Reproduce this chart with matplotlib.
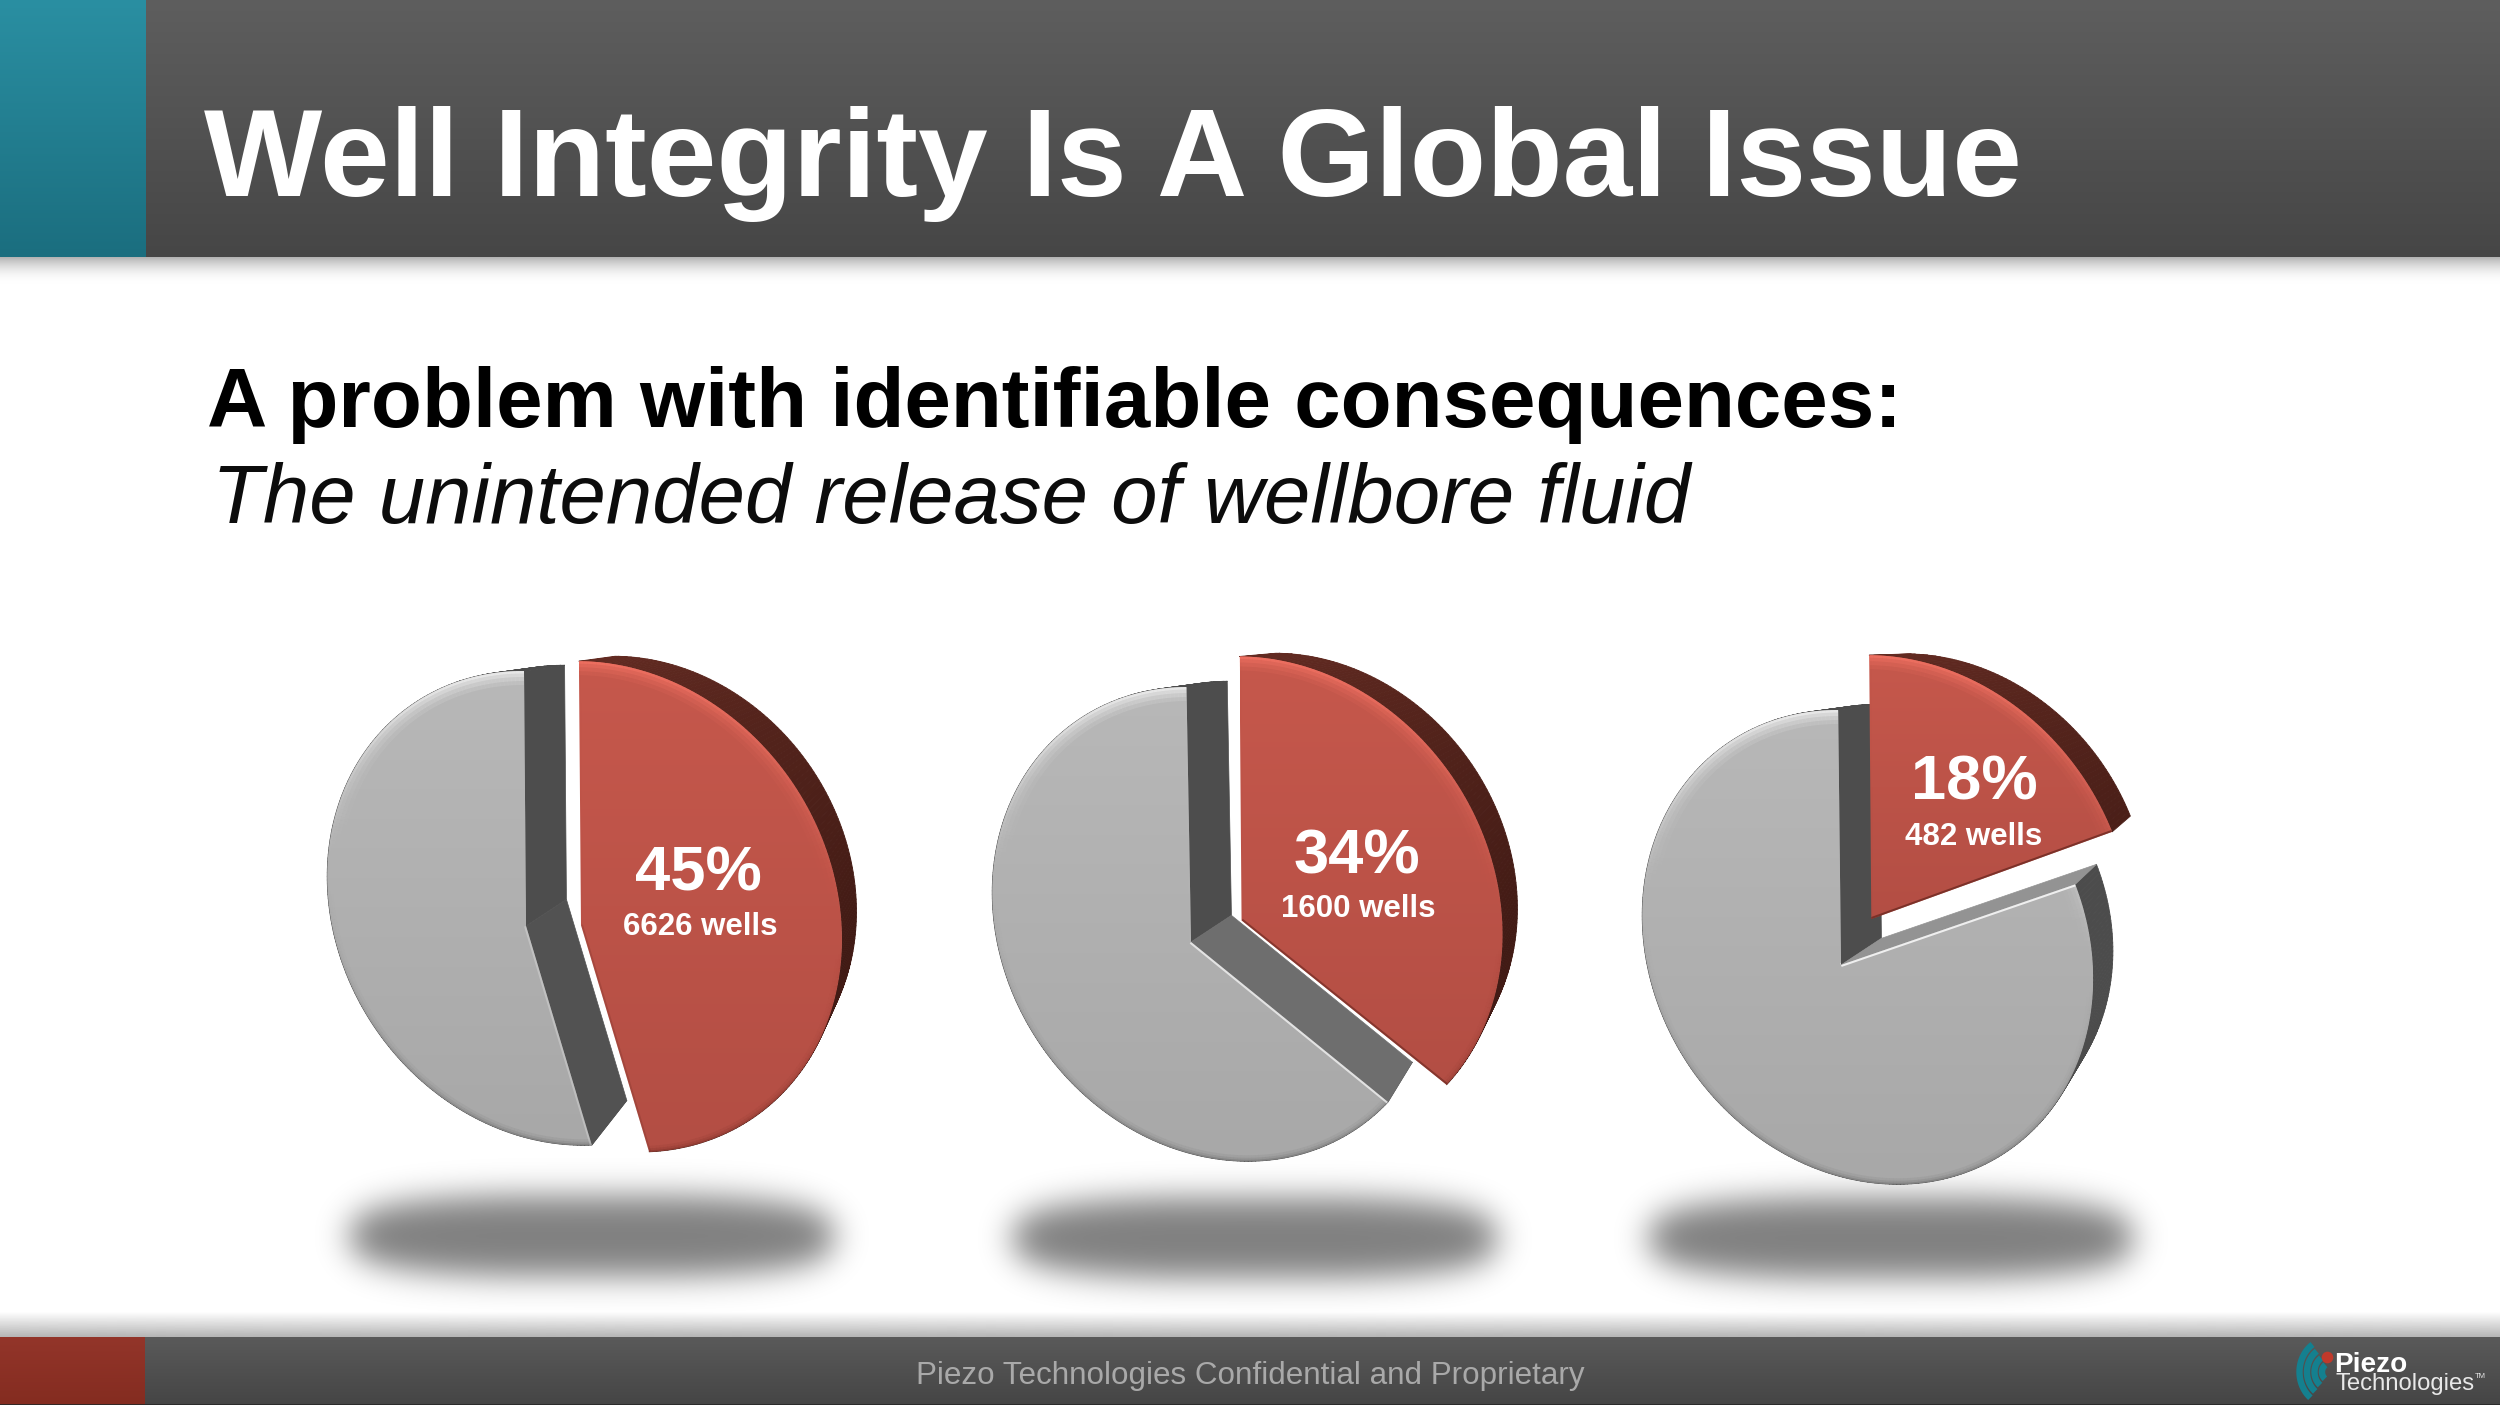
import numpy as np
import matplotlib
matplotlib.use("Agg")
import matplotlib.pyplot as plt
from matplotlib.collections import LineCollection, PolyCollection
from matplotlib.colors import to_rgb
from matplotlib.patches import Polygon

# chart values
percents = [45, 34, 18]
well_counts = [6626, 1600, 482]
title = "Well Integrity Is A Global Issue"
subtitle = "A problem with identifiable consequences:"
subtitle2 = "The unintended release of wellbore fluid"
footer = "Piezo Technologies Confidential and Proprietary"

# layout, in pixels of the 2500x1405 slide
pie_centers = [(526, 926), (1191, 942), (1841, 965)]
shadow_centers = [(592, 1236), (1255, 1238), (1891, 1238)]
pct_pos = [(698, 874), (1357, 857), (1974, 783)]
wells_pos = [(700, 927), (1358, 909), (1974, 837)]
wall_grays = ["#525252", "#6e6e6e", "#939393"]
EXPLODE = 55
RED_SCALE = 1.035
DEPTH = 0.082
VANISH = np.array([493.0, -325.0])

plt.rcParams["font.family"] = ["Liberation Sans", "DejaVu Sans"]

fig = plt.figure(figsize=(25, 14.05), dpi=100)
ax = fig.add_axes([0, 0, 1, 1])
ax.set_axis_off()


def fit_homography():
    # tilted disc: where four rim points of the unit circle land on the slide
    angles = np.radians([0, 122.4, 180, 302.4])
    src = np.column_stack([np.sin(angles), np.cos(angles)])
    dst = np.array([(-2, -255), (197, 160), (1, 212), (-179, -143)], float)
    rows, rhs = [], []
    for (u, v), (x, y) in zip(src, dst):
        rows.append([u, v, 1, 0, 0, 0, -u * x, -v * x])
        rows.append([0, 0, 0, u, v, 1, -u * y, -v * y])
        rhs += [x, y]
    h = np.linalg.solve(np.array(rows), np.array(rhs))
    return np.append(h, 1).reshape(3, 3)


H = fit_homography()


def rim(deg):
    t = np.radians(deg)
    p = H @ np.vstack([np.sin(t), np.cos(t), np.ones_like(t)])
    return (p[:2] / p[2]).T


def vgrad(x0, x1, y0, y1, c0, c1, z, clip=None, a0=1.0, a1=1.0):
    c0, c1 = np.array(to_rgb(c0)), np.array(to_rgb(c1))
    f = np.linspace(0, 1, 256)[:, None]
    rgb = c0 * (1 - f) + c1 * f
    alpha = a0 * (1 - f) + a1 * f
    img = np.hstack([rgb, alpha])[:, None, :]
    im = ax.imshow(img, extent=(x0, x1, y1, y0), aspect="auto", zorder=z, interpolation="bilinear")
    if clip is not None:
        im.set_clip_path(Polygon(clip, closed=True, transform=ax.transData))
    return im


def add_strokes(segs, col, width, face, z):
    lc = LineCollection(segs, colors=col, linewidths=width * 0.72, capstyle="butt", zorder=z)
    ax.add_collection(lc)
    lc.set_clip_path(Polygon(face, closed=True, transform=ax.transData))


def bevel(face, hi, lo, z):
    pts = np.vstack([face, face[:1]])
    d = np.diff(pts, axis=0)
    d = d / np.maximum(np.hypot(d[:, 0], d[:, 1])[:, None], 1e-9)
    x, y = face[:, 0], face[:, 1]
    area = np.sum(x * np.roll(y, -1) - np.roll(x, -1) * y)
    sign = 1 if area > 0 else -1
    # how much each edge faces the light, which comes from straight above
    b = d[:, 0] * sign
    segs = np.stack([pts[:-1], pts[1:]], axis=1)
    hi, lo = np.array(to_rgb(hi)), np.array(to_rgb(lo))
    straight = np.zeros(len(segs), bool)
    straight[[0, -1]] = True

    # wide soft highlight on the top of the rim
    for width, strength in [(28, 0.12), (20, 0.18), (12, 0.26), (5, 0.42)]:
        col = np.zeros((len(segs), 4))
        col[:, :3] = hi
        col[:, 3] = np.clip(b, 0, 1) ** 1.5 * strength
        col[straight, 3] = 0
        add_strokes(segs, col, width, face, z)
    # narrow shade on the lower rim
    for width, strength in [(12, 0.1), (7, 0.16), (3, 0.3)]:
        col = np.zeros((len(segs), 4))
        col[:, :3] = lo
        col[:, 3] = np.clip(-b, 0, 1) ** 1.5 * strength
        col[straight, 3] = 0
        add_strokes(segs, col, width, face, z)
    # cut edges only carry a thin line
    col = np.zeros((len(segs), 4))
    col[:, :3] = np.where(b[:, None] > 0, hi, lo)
    col[:, 3] = np.where(straight, np.clip(np.abs(b), 0, 1) * 0.85, 0)
    add_strokes(segs, col, 4, face, z)


def side_quads(front, back, colors, z):
    quads = [[front[i], front[i + 1], back[i + 1], back[i]] for i in range(len(front) - 1)]
    ax.add_collection(PolyCollection(quads, facecolors=colors, edgecolors=colors, linewidths=0.6, zorder=z))


def to_back(p, vp):
    return p + DEPTH * (vp - p)


def blur_1d(a, sigma, axis):
    r = int(3 * sigma)
    k = np.exp(-0.5 * (np.arange(-r, r + 1) / sigma) ** 2)
    k /= k.sum()
    return np.apply_along_axis(lambda m: np.convolve(m, k, mode="same"), axis, a)


def draw_shadow(cx, cy, z):
    xs = np.arange(cx - 320, cx + 320)
    ys = np.arange(cy - 100, cy + 100)
    xx, yy = np.meshgrid(xs - cx, ys - cy)
    mask = ((np.abs(xx) / 243) ** 3 + (np.abs(yy) / 41) ** 3 <= 1).astype(float)
    mask = blur_1d(blur_1d(mask, 16, 0), 16, 1)
    img = np.zeros(mask.shape + (4,))
    img[..., 3] = 0.5 * mask
    ax.imshow(img, extent=(xs[0], xs[-1], ys[-1], ys[0]), aspect="auto", zorder=z)


def draw_pie(pct, count, center, pct_xy, wells_xy, wall_gray, shadow_xy, z):
    c = np.array(center, float)
    vp = c + VANISH
    end = pct * 3.6

    draw_shadow(*shadow_xy, z)

    # grey remainder
    arc = np.arange(end, 360.01, 1.0)
    front = c + rim(arc)
    back = to_back(front, vp)
    apex_b = to_back(c, vp)
    side_quads(front, back, ["#4c4c4c"] * (len(arc) - 1), z + 1)
    ax.add_patch(Polygon([c, front[-1], back[-1], apex_b], closed=True, fc="#4d4d4d", ec="#4d4d4d", lw=0.5, zorder=z + 2))
    ax.add_patch(Polygon([c, front[0], back[0], apex_b], closed=True, fc=wall_gray, ec=wall_gray, lw=0.5, zorder=z + 2))
    face = np.vstack([c, front])
    vgrad(face[:, 0].min(), face[:, 0].max(), face[:, 1].min(), face[:, 1].max(),
          "#b8b8b8", "#a8a8a8", z + 3, clip=face)
    bevel(face, "#ffffff", "#5e5e5e", z + 4)

    # red slice, pulled out along its middle angle
    m = rim(np.array([end / 2]))[0]
    shift = EXPLODE * m / np.hypot(*m)
    arc = np.arange(0, end + 0.01, 1.0)
    rc = c + shift
    front = rc + rim(arc) * RED_SCALE
    back = to_back(front, vp)
    tint = np.array([np.interp(arc[:-1], [0, 90, 180], [a, b, d]) for a, b, d in
                     zip(to_rgb("#632b22"), to_rgb("#401a14"), to_rgb("#51221b"))]).T
    side_quads(front, back, tint, z + 5)
    face = np.vstack([rc, front])
    vgrad(face[:, 0].min(), face[:, 0].max(), face[:, 1].min(), face[:, 1].max(),
          "#c6584c", "#b34e44", z + 6, clip=face)
    bevel(face, "#ff7a6a", "#6e2a22", z + 7)

    ax.text(*pct_xy, f"{pct}%", color="white", fontsize=45.5, fontweight="bold",
            ha="center", va="center", zorder=z + 8)
    ax.text(*wells_xy, f"{count} wells", color="white", fontsize=22.5, fontweight="bold",
            ha="center", va="center", zorder=z + 8)


def fit_text(x, y, s, right, **kw):
    # set the size so the string ends where it does on the slide
    t = ax.text(x, y, s, ha="left", va="baseline", zorder=90, **kw)
    w = t.get_window_extent(fig.canvas.get_renderer()).width
    t.set_fontsize(t.get_fontsize() * (right - x) / w)
    return t


# slide chrome
vgrad(0, 2500, 255, 284, "#9c9c9c", "#ffffff", 1, a0=0.9, a1=0.0)
vgrad(0, 2500, 0, 257, "#5e5e5e", "#464646", 2)
vgrad(0, 146, 0, 257, "#2a8fa2", "#1b6e7f", 3)
vgrad(0, 2500, 1312, 1337, "#b5b5b5", "#b5b5b5", 1, a0=0.0, a1=1.0)
vgrad(0, 2500, 1337, 1405, "#5a5a5a", "#454545", 2)
vgrad(0, 145, 1337, 1405, "#93352a", "#842c20", 3)
ax.plot([0, 2500], [1404.5, 1404.5], color="#262626", lw=1.2, zorder=4)

fit_text(204, 196, title, 2023, color="white", fontsize=91, fontweight="bold")
fit_text(207, 427, subtitle, 1903, color="black", fontsize=60, fontweight="bold")
fit_text(212, 523, subtitle2, 1690, color="#0c0c0c", fontsize=60, fontstyle="italic")
fit_text(916, 1384, footer, 1580, color="#a9a9a9", fontsize=22)

for i in range(len(percents)):
    draw_pie(percents[i], well_counts[i], pie_centers[i], pct_pos[i], wells_pos[i],
             wall_grays[i], shadow_centers[i], 10 + i * 10)

# logo, bottom right
for r in [8, 15.5, 23, 30.5]:
    t = np.radians(np.linspace(130, 235, 40))
    ax.plot(2330 + r * np.cos(t), 1372 + r * np.sin(t) * 1.1, color="#14808f", lw=4.6,
            solid_capstyle="butt", zorder=90)
ax.scatter([2327], [1357], s=70, color="#c0392b", zorder=91, linewidths=0)
fit_text(2334, 1372, "Piezo", 2407, color="white", fontsize=23, fontweight="bold")
fit_text(2335, 1390, "Technologies", 2474, color="#e8e8e8", fontsize=18)
ax.text(2475, 1378, "TM", color="#e8e8e8", fontsize=5.5, ha="left", va="baseline", zorder=90)

ax.set_xlim(0, 2500)
ax.set_ylim(1405, 0)
fig.savefig("out.png", dpi=100, facecolor="white")
